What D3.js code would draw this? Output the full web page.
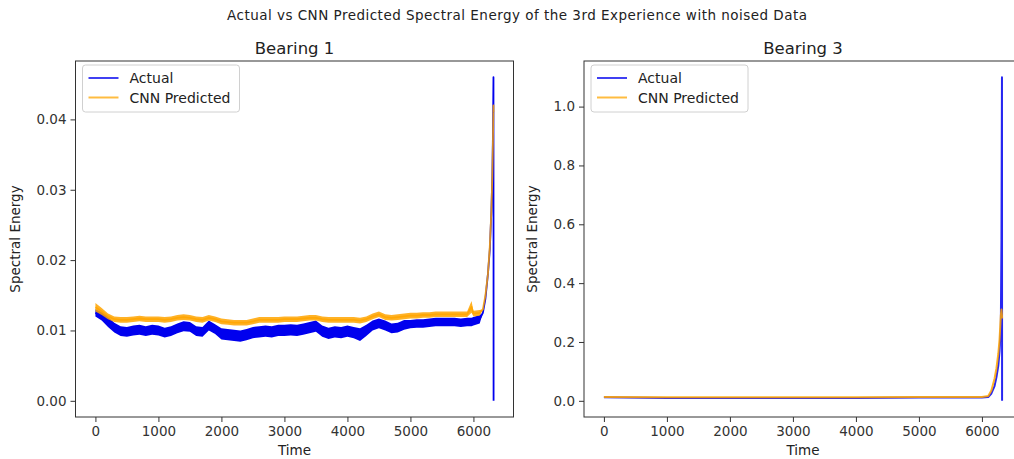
<!DOCTYPE html>
<html>
<head>
<meta charset="utf-8">
<script src="https://cdn.jsdelivr.net/npm/d3@7"></script>
<style>
  html, body { margin: 0; padding: 0; background: #fff; }
  svg { display: block; font-family: "DejaVu Sans", sans-serif; }
</style>
</head>
<body>
<svg id="chart" width="1014" height="459"></svg>
<script>
// ---- Bearing 1: time samples and band envelopes ----
const b1Time = [0,100,200,300,400,500,600,700,800,900,1000,1100,1200,1300,1400,1500,1600,1700,1800,1900,
  2000,2100,2200,2300,2400,2500,2600,2700,2800,2900,3000,3100,3200,3300,3400,3500,3600,3700,3800,3900,
  4000,4100,4200,4300,4400,4500,4600,4700,4800,4900,5000,5100,5200,5300,5400,5500,5600,5700,5800,5900,
  5970,6000,6100,6150,6190,6230,6260,6285,6300,6310,6318,6320];

const b1ActualLow = [0.0120,0.0114,0.0105,0.0097,0.0092,0.0091,0.0093,0.0094,0.0092,0.0094,0.0093,0.0090,0.0092,0.0096,0.0099,0.0098,0.0092,0.0091,0.0100,0.0095,
  0.0087,0.0086,0.0085,0.0084,0.0086,0.0089,0.0090,0.0091,0.0090,0.0092,0.0092,0.0093,0.0092,0.0094,0.0096,0.0098,0.0091,0.0088,0.0090,0.0089,
  0.0091,0.0089,0.0085,0.0092,0.0100,0.0103,0.0100,0.0096,0.0097,0.0101,0.0103,0.0104,0.0104,0.0105,0.0106,0.0106,0.0106,0.0106,0.0105,0.0106,
  0.0106,0.0107,0.0110,0.0125,0.0145,0.0180,0.0215,0.0270,0.0320,0.0380,0.0460,0.0000];
const b1ActualHigh = [0.0130,0.0126,0.0119,0.0111,0.0106,0.0105,0.0107,0.0108,0.0106,0.0108,0.0107,0.0104,0.0106,0.0110,0.0113,0.0112,0.0106,0.0105,0.0114,0.0109,
  0.0103,0.0102,0.0101,0.0100,0.0102,0.0105,0.0106,0.0107,0.0106,0.0108,0.0108,0.0109,0.0108,0.0110,0.0112,0.0114,0.0107,0.0104,0.0106,0.0105,
  0.0107,0.0105,0.0103,0.0108,0.0114,0.0117,0.0114,0.0110,0.0111,0.0115,0.0115,0.0116,0.0116,0.0117,0.0118,0.0118,0.0118,0.0118,0.0117,0.0118,
  0.0118,0.0119,0.0122,0.0125,0.0145,0.0180,0.0215,0.0270,0.0320,0.0380,0.0460,0.0000];

const b1PredLow = [0.0127,0.0122,0.0116,0.0112,0.0111,0.0111,0.0112,0.0113,0.0112,0.0112,0.0112,0.0111,0.0112,0.0114,0.0115,0.0114,0.0112,0.0111,0.0114,0.0112,
  0.0109,0.0108,0.0107,0.0107,0.0107,0.0109,0.0111,0.0111,0.0111,0.0111,0.0112,0.0112,0.0112,0.0113,0.0114,0.0114,0.0112,0.0111,0.0111,0.0111,
  0.0111,0.0111,0.0110,0.0112,0.0116,0.0119,0.0115,0.0114,0.0115,0.0116,0.0117,0.0117,0.0118,0.0118,0.0119,0.0119,0.0119,0.0119,0.0119,0.0119,
  0.0125,0.0120,0.0121,0.0130,0.0150,0.0180,0.0220,0.0270,0.0320,0.0370,0.0420,0.0410];
const b1PredHigh = [0.0139,0.0132,0.0124,0.0120,0.0119,0.0119,0.0120,0.0121,0.0120,0.0120,0.0120,0.0119,0.0120,0.0122,0.0123,0.0122,0.0120,0.0119,0.0122,0.0120,
  0.0117,0.0116,0.0115,0.0115,0.0115,0.0117,0.0119,0.0119,0.0119,0.0119,0.0120,0.0120,0.0120,0.0121,0.0122,0.0122,0.0120,0.0119,0.0119,0.0119,
  0.0119,0.0119,0.0118,0.0120,0.0124,0.0127,0.0123,0.0122,0.0123,0.0124,0.0125,0.0125,0.0126,0.0126,0.0127,0.0127,0.0127,0.0127,0.0127,0.0127,
  0.0142,0.0128,0.0129,0.0130,0.0150,0.0180,0.0220,0.0270,0.0320,0.0370,0.0420,0.0410];

// ---- Bearing 3 ----
const b3Time = [0,1000,2000,3000,4000,5000,6000,6100,6150,6200,6230,6260,6280,6300,6310,6318,6320];
const b3Actual = [0.012,0.010,0.010,0.010,0.010,0.011,0.011,0.013,0.025,0.050,0.080,0.120,0.170,0.250,0.550,1.100,0.000];
const b3Pred   = [0.013,0.012,0.012,0.012,0.012,0.013,0.013,0.016,0.035,0.075,0.110,0.160,0.210,0.290,0.310,0.290,0.280];

// ---- Axis ticks and text ----
const xTicks = [0,1000,2000,3000,4000,5000,6000];
const b1YTicks = [0.00,0.01,0.02,0.03,0.04];
const b3YTicks = [0.0,0.2,0.4,0.6,0.8,1.0];
const seriesNames = ["Actual", "CNN Predicted"];
const figTitle = "Actual vs CNN Predicted Spectral Energy of the 3rd Experience with noised Data";

const BLUE = "#0000ee", ORANGE = "#ffa500", AXIS = "#333";

const svg = d3.select("#chart");

svg.append("text")
  .attr("x", 517).attr("y", 20)
  .attr("text-anchor", "middle")
  .attr("font-size", 13.5).attr("fill", "#222")
  .attr("textLength", 580).attr("lengthAdjust", "spacing")
  .text(figTitle);

function panel(opts) {
  const { left, top, width, height, title, yDomain, yTicks, yFmt, xDomain } = opts;
  const g = svg.append("g").attr("transform", `translate(${left},${top})`);
  const x = d3.scaleLinear().domain(xDomain).range([0, width]);
  const y = d3.scaleLinear().domain(yDomain).range([height, 0]);

  const clipId = "clip-" + title.replace(/\s/g, "");
  g.append("clipPath").attr("id", clipId)
    .append("rect").attr("width", width).attr("height", height);
  const plot = g.append("g").attr("clip-path", `url(#${clipId})`);

  opts.draw(plot, x, y);

  // box spines
  g.append("rect").attr("width", width).attr("height", height)
    .attr("fill", "none").attr("stroke", AXIS).attr("stroke-width", 1);

  const xAxis = g.append("g").attr("transform", `translate(0,${height})`)
    .call(d3.axisBottom(x).tickValues(xTicks).tickFormat(d3.format("d")).tickSize(5).tickPadding(4));
  const yAxis = g.append("g")
    .call(d3.axisLeft(y).tickValues(yTicks).tickFormat(d3.format(yFmt)).tickSize(5).tickPadding(4));
  [xAxis, yAxis].forEach(a => {
    a.select(".domain").remove();
    a.selectAll(".tick line").attr("stroke", AXIS);
    a.selectAll(".tick text").attr("fill", "#333").attr("font-size", 13.5)
      .attr("font-family", "DejaVu Sans, sans-serif");
  });

  g.append("text").attr("x", width / 2).attr("y", -7)
    .attr("text-anchor", "middle").attr("font-size", 16.5).attr("fill", "#222").text(title);
  g.append("text").attr("x", width / 2).attr("y", height + 38)
    .attr("text-anchor", "middle").attr("font-size", 13.5).attr("fill", "#222").text("Time");
  g.append("text")
    .attr("transform", `translate(${opts.yLabelX},${height / 2}) rotate(-90)`)
    .attr("text-anchor", "middle").attr("font-size", 13.5).attr("fill", "#222").text("Spectral Energy");

  // legend
  const lg = g.append("g").attr("transform", "translate(7,4)");
  lg.append("rect").attr("width", 157).attr("height", 47).attr("rx", 3)
    .attr("fill", "#fff").attr("fill-opacity", 0.8).attr("stroke", "#d0d0d0");
  [BLUE, ORANGE].forEach((c, i) => {
    const yy = 13 + i * 19.5;
    lg.append("line").attr("x1", 6).attr("x2", 36).attr("y1", yy).attr("y2", yy)
      .attr("stroke", c).attr("stroke-width", 2).attr("stroke-opacity", 0.75);
    lg.append("text").attr("x", 47).attr("y", yy + 5).attr("font-size", 14)
      .attr("fill", "#222").text(seriesNames[i]);
  });
}

const xDom = [-316, 6636];

panel({
  left: 75.5, top: 61, width: 438, height: 356,
  title: "Bearing 1", xDomain: xDom, yDomain: [-0.0023, 0.0483],
  yTicks: b1YTicks, yFmt: ".2f", yLabelX: -56,
  draw(plot, x, y) {
    const bands = [
      { lo: b1ActualLow, hi: b1ActualHigh, color: BLUE, op: 1 },
      { lo: b1PredLow, hi: b1PredHigh, color: ORANGE, op: 0.85 }
    ];
    bands.forEach(b => {
      const idx = d3.range(b1Time.length);
      plot.append("path").datum(idx)
        .attr("fill", b.color).attr("fill-opacity", b.op)
        .attr("d", d3.area().x(i => x(b1Time[i])).y0(i => y(b.lo[i])).y1(i => y(b.hi[i])));
      plot.append("path").datum(idx)
        .attr("fill", "none").attr("stroke", b.color).attr("stroke-opacity", b.op)
        .attr("stroke-width", 1.8).attr("stroke-linejoin", "round")
        .attr("d", d3.line().x(i => x(b1Time[i])).y(i => y((b.lo[i] + b.hi[i]) / 2)));
    });
  }
});

panel({
  left: 584, top: 61, width: 438, height: 356,
  title: "Bearing 3", xDomain: xDom, yDomain: [-0.055, 1.155],
  yTicks: b3YTicks, yFmt: ".1f", yLabelX: -47,
  draw(plot, x, y) {
    [{ v: b3Actual, color: BLUE, op: 0.85 }, { v: b3Pred, color: ORANGE, op: 0.85 }].forEach(s => {
      plot.append("path").datum(d3.range(b3Time.length))
        .attr("fill", "none").attr("stroke", s.color).attr("stroke-opacity", s.op)
        .attr("stroke-width", 2).attr("stroke-linejoin", "round")
        .attr("d", d3.line().x(i => x(b3Time[i])).y(i => y(s.v[i])));
    });
  }
});
</script>
</body>
</html>
